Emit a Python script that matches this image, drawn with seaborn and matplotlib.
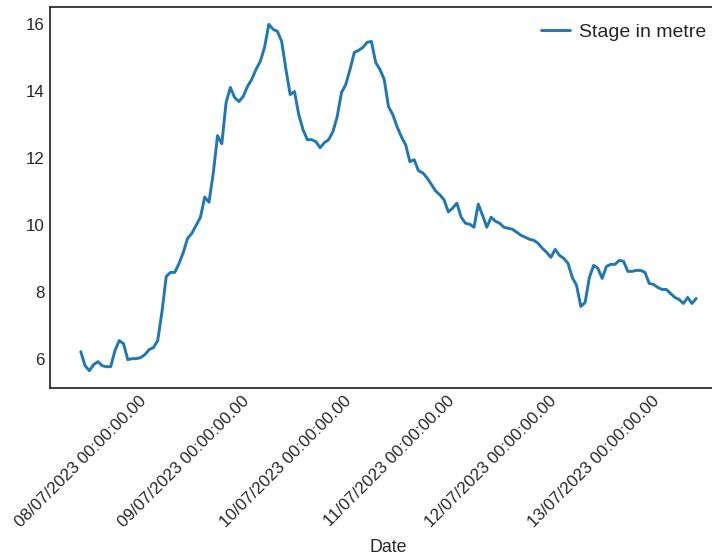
import matplotlib
matplotlib.use("Agg")
import matplotlib.pyplot as plt
import matplotlib.dates as mdates
import numpy as np
import pandas as pd
import seaborn as sns

# Hourly river stage readings (metres)
start_time = "2023-07-07 08:00"
stage_m = [
    6.21, 5.79, 5.64, 5.82, 5.91, 5.79, 5.76, 5.76, 6.24, 6.54,
    6.45, 5.97, 6.00, 6.00, 6.03, 6.12, 6.27, 6.33, 6.54, 7.40,
    8.46, 8.58, 8.58, 8.85, 9.18, 9.60, 9.75, 9.99, 10.23, 10.83,
    10.68, 11.55, 12.67, 12.43, 13.66, 14.11, 13.81, 13.69, 13.84, 14.14,
    14.35, 14.65, 14.89, 15.31, 16.00, 15.85, 15.79, 15.49, 14.65, 13.90,
    13.99, 13.30, 12.85, 12.55, 12.55, 12.49, 12.31, 12.46, 12.55, 12.79,
    13.24, 13.96, 14.20, 14.65, 15.16, 15.22, 15.31, 15.46, 15.49, 14.86,
    14.65, 14.35, 13.54, 13.30, 12.94, 12.64, 12.40, 11.89, 11.95, 11.62,
    11.56, 11.41, 11.22, 11.02, 10.90, 10.75, 10.39, 10.50, 10.65, 10.23,
    10.05, 10.02, 9.93, 10.62, 10.29, 9.93, 10.23, 10.11, 10.05, 9.93,
    9.90, 9.87, 9.78, 9.69, 9.63, 9.57, 9.54, 9.45, 9.30, 9.18,
    9.03, 9.27, 9.09, 9.00, 8.85, 8.43, 8.19, 7.56, 7.68, 8.43,
    8.79, 8.70, 8.40, 8.76, 8.82, 8.82, 8.94, 8.91, 8.61, 8.61,
    8.64, 8.64, 8.58, 8.25, 8.22, 8.13, 8.07, 8.07, 7.95, 7.83,
    7.77, 7.65, 7.83, 7.65, 7.80,
]
series_label = "Stage in metre"

dates = pd.date_range(start_time, periods=len(stage_m), freq="h")
df = pd.DataFrame({"Date": dates, series_label: stage_m})

sns.set_theme(style="white")
plt.rcParams["font.family"] = ["Liberation Sans", "DejaVu Sans"]

fig = plt.figure(figsize=(7.12, 5.58), dpi=100)
ax = fig.add_axes([50 / 712, 170 / 558, 677 / 712, 381 / 558])

sns.lineplot(data=df, x="Date", y=series_label, ax=ax,
             label=series_label, linewidth=2.1, color="#1f77b4")

ax.xaxis.set_major_locator(mdates.DayLocator())
ax.xaxis.set_major_formatter(mdates.DateFormatter("%d/%m/%Y %H:%M:%S.00"))
for lbl in ax.get_xticklabels():
    lbl.set_rotation(45)
    lbl.set_ha("right")
ax.tick_params(axis="both", labelsize=12.2, colors=".15", length=0, pad=4)
ax.set_xlabel("Date", fontsize=12.8, labelpad=6)
ax.set_ylabel("")
ax.set_yticks([6, 8, 10, 12, 14, 16])

for sp in ax.spines.values():
    sp.set_color(".15")
    sp.set_linewidth(1.25)

ax.legend(loc="upper right", bbox_to_anchor=(0.994, 1.0), frameon=False,
          fontsize=14, handlelength=1.5, handletextpad=0.45,
          borderaxespad=0.45)

fig.savefig("out.png", dpi=100)
